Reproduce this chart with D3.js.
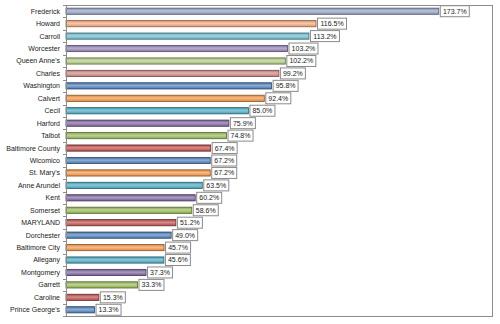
<!DOCTYPE html>
<html><head><meta charset="utf-8">
<script src="https://cdn.jsdelivr.net/npm/d3@7"></script>
<style>body{margin:0;background:#fff}svg{display:block}</style>
</head><body>
<script>
const categories = ["Frederick","Howard","Carroll","Worcester","Queen Anne's","Charles","Washington","Calvert","Cecil","Harford","Talbot","Baltimore County","Wicomico","St. Mary's","Anne Arundel","Kent","Somerset","MARYLAND","Dorchester","Baltimore City","Allegany","Montgomery","Garrett","Caroline","Prince George's"];
const values = [173.7,116.5,113.2,103.2,102.2,99.2,95.8,92.4,85.0,75.9,74.8,67.4,67.2,67.2,63.5,60.2,58.6,51.2,49.0,45.7,45.6,37.3,33.3,15.3,13.3];
const barColors = ["#95a3c6","#f7a97a","#6fbfd2","#9583b6","#b2cc84","#d08785","#4f81bd","#f79646","#4bacc6","#8064a2","#9bbb59","#c0504d","#4f81bd","#f79646","#4bacc6","#8064a2","#9bbb59","#c0504d","#4f81bd","#f79646","#4bacc6","#8064a2","#9bbb59","#c0504d","#4f81bd"];

(function(){
const W=500,H=324;
const svg=d3.select("body").append("svg").attr("width",W).attr("height",H);
const pL=66,pR=492,pT=5,pB=316;
const x=d3.scaleLinear().domain([0,198.5]).range([pL,pR]);
const y=d3.scaleBand().domain(categories).range([pT,pB]).paddingInner(0.5).paddingOuter(0.25);

const defs=svg.append("defs");
barColors.forEach((c,i)=>{
  const g=defs.append("linearGradient").attr("id","g"+i).attr("x1",0).attr("y1",0).attr("x2",0).attr("y2",1);
  const base=d3.color(c);
  g.append("stop").attr("offset","0%").attr("stop-color",base.darker(0.4));
  g.append("stop").attr("offset","45%").attr("stop-color",d3.interpolateRgb(c,"#fff")(0.35));
  g.append("stop").attr("offset","100%").attr("stop-color",base.darker(0.3));
});

svg.append("rect").attr("x",pL+0.5).attr("y",pT+0.5).attr("width",pR-pL).attr("height",pB-pT)
  .attr("fill","none").attr("stroke","#8c8c8c").attr("stroke-width",1);

svg.selectAll("rect.bar").data(values).enter().append("rect").attr("class","bar")
  .attr("x",x(0)).attr("y",(d,i)=>y(categories[i]))
  .attr("width",d=>x(d)-x(0)).attr("height",y.bandwidth())
  .attr("fill",(d,i)=>`url(#g${i})`)
  .attr("stroke",(d,i)=>d3.color(barColors[i]).darker(1.6)).attr("stroke-width",0.8);

const band=(pB-pT)/categories.length;
const ax=svg.append("g");
ax.append("line").attr("x1",pL+0.5).attr("x2",pL+0.5).attr("y1",pT).attr("y2",pB).attr("stroke","#8c8c8c");
d3.range(categories.length+1).forEach(i=>{
  const yy=Math.round(pT+i*band)+0.5;
  ax.append("line").attr("x1",pL-3).attr("x2",pL).attr("y1",yy).attr("y2",yy).attr("stroke","#8c8c8c");
});
svg.selectAll("text.cat").data(categories).enter().append("text").attr("class","cat")
  .attr("x",60).attr("y",d=>y(d)+y.bandwidth()/2).attr("dy","0.35em")
  .attr("text-anchor","end").attr("font-family","'Liberation Sans', Arial, sans-serif").attr("font-size",7).attr("fill","#222")
  .text(d=>d);

const lg=svg.selectAll("g.lab").data(values).enter().append("g").attr("class","lab")
  .attr("transform",(d,i)=>`translate(${x(d)+1.5},${y(categories[i])+y.bandwidth()/2})`);
lg.append("rect").attr("x",0).attr("y",-5.5).attr("width",d=>d>=100?29:25).attr("height",11)
  .attr("fill","#fff").attr("stroke","#8a8a8a").attr("stroke-width",1);
lg.append("text").attr("x",d=>d>=100?14.5:12.5).attr("y",0).attr("dy","0.35em").attr("text-anchor","middle")
  .attr("font-family","'Liberation Sans', Arial, sans-serif").attr("font-size",7).attr("fill","#222")
  .text(d=>d.toFixed(1)+"%");
})();
</script>
</body></html>
